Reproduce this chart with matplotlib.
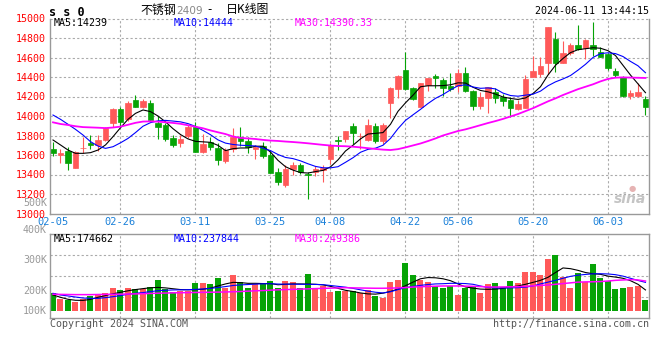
import numpy as np
import matplotlib
matplotlib.use('Agg')
import matplotlib.pyplot as plt
import matplotlib.transforms as mtransforms

# ---- data (SS2409, daily) ----
date_ticks = [0, 9, 19, 29, 37, 47, 54, 64, 74]
date_labels = ['02-05', '02-26', '03-11', '03-25', '04-08', '04-22', '05-06', '05-20', '06-03']

opens = [13658, 13597, 13641, 13470, 13670, 13727, 13706, 13754, 13925, 14072,
         13966, 14164, 14096, 14133, 13932, 13908, 13774, 13720, 13798, 13891,
         13634, 13737, 13675, 13542, 13658, 13781, 13744, 13661, 13692, 13600,
         13422, 13289, 13453, 13497, 13400, 13422, 13446, 13562, 13754, 13761,
         13897, 13794, 13754, 13897, 13747, 14137, 14273, 14472, 14284, 14096,
         14318, 14410, 14369, 14308, 14308, 14444, 14260, 14102, 14188, 14250,
         14200, 14164, 14072, 14079, 14403, 14431, 14547, 14790, 14547, 14650,
         14728, 14701, 14728, 14653, 14636, 14465, 14403, 14205, 14208, 14174]
highs = [13736, 13658, 13685, 13641, 13781, 13802, 13802, 13891, 14085, 14089,
         14154, 14215, 14174, 14164, 14000, 13925, 13802, 13802, 13911, 13939,
         13815, 13788, 13720, 13675, 13874, 13884, 13781, 13703, 13733, 13644,
         13463, 13497, 13525, 13514, 13429, 13487, 13497, 13720, 13790, 13850,
         13930, 13829, 13969, 13932, 13930, 14300, 14420, 14660, 14300, 14342,
         14393, 14431, 14386, 14438, 14482, 14499, 14267, 14250, 14294, 14284,
         14226, 14198, 14164, 14420, 14615, 14602, 14916, 14865, 14773, 14745,
         14933, 14786, 14967, 14711, 14643, 14489, 14410, 14267, 14342, 14205]
lows = [13590, 13521, 13446, 13470, 13624, 13658, 13638, 13747, 13884, 13898,
        13945, 14089, 14082, 13949, 13761, 13747, 13685, 13685, 13774, 13634,
        13625, 13651, 13497, 13514, 13634, 13692, 13617, 13559, 13569, 13412,
        13292, 13268, 13395, 13405, 13145, 13385, 13327, 13511, 13651, 13737,
        13713, 13658, 13744, 13720, 13713, 13983, 14181, 14265, 14164, 14090,
        14256, 14284, 14208, 14260, 14250, 14250, 14062, 14068, 14027, 14130,
        14100, 13993, 14062, 14079, 14397, 14397, 14431, 14455, 14547, 14626,
        14677, 14581, 14615, 14609, 14472, 14397, 14198, 14174, 14198, 14010]
closes = [13624, 13624, 13521, 13631, 13676, 13706, 13754, 13874, 14072, 13939,
          14133, 14096, 14154, 13956, 13891, 13768, 13706, 13768, 13887, 13634,
          13712, 13686, 13549, 13651, 13781, 13744, 13686, 13686, 13590, 13419,
          13327, 13460, 13497, 13429, 13395, 13456, 13467, 13699, 13747, 13843,
          13829, 13798, 13908, 13747, 13908, 14291, 14410, 14273, 14171, 14335,
          14386, 14393, 14284, 14273, 14438, 14260, 14102, 14198, 14294, 14188,
          14150, 14079, 14123, 14379, 14465, 14513, 14916, 14540, 14650, 14728,
          14687, 14779, 14687, 14609, 14489, 14420, 14208, 14239, 14250, 14096]

ma5 = [13754, 13703, 13651, 13617, 13617, 13624, 13651, 13703, 13788, 13880,
       13966, 14027, 14062, 14045, 14000, 13940, 13870, 13810, 13765, 13740,
       13735, 13730, 13699, 13645, 13665, 13672, 13672, 13690, 13690, 13630,
       13545, 13480, 13445, 13420, 13415, 13430, 13442, 13478, 13550, 13641,
       13700, 13765, 13815, 13822, 13830, 13915, 14048, 14135, 14213, 14300,
       14310, 14310, 14312, 14320, 14340, 14338, 14295, 14262, 14248, 14225,
       14195, 14180, 14170, 14185, 14230, 14300, 14420, 14520, 14590, 14650,
       14680, 14690, 14700, 14695, 14670, 14620, 14520, 14420, 14330, 14239]
ma10 = [14010, 13966, 13915, 13863, 13805, 13737, 13692, 13668, 13685, 13725,
        13770, 13830, 13895, 13932, 13950, 13955, 13948, 13940, 13922, 13893,
        13852, 13808, 13755, 13722, 13708, 13700, 13697, 13692, 13670, 13645,
        13605, 13575, 13563, 13540, 13510, 13483, 13469, 13468, 13480, 13525,
        13572, 13628, 13658, 13670, 13700, 13770, 13870, 13955, 14012, 14068,
        14128, 14181, 14220, 14268, 14310, 14320, 14298, 14284, 14288, 14278,
        14235, 14210, 14203, 14214, 14224, 14255, 14310, 14350, 14380, 14415,
        14470, 14530, 14600, 14640, 14648, 14640, 14610, 14560, 14515, 14444]
ma30 = [13935, 13918, 13908, 13895, 13886, 13883, 13880, 13876, 13882, 13891,
        13910, 13930, 13943, 13945, 13942, 13936, 13929, 13920, 13905, 13890,
        13874, 13852, 13833, 13815, 13790, 13775, 13770, 13764, 13755, 13748,
        13744, 13738, 13733, 13727, 13720, 13712, 13704, 13697, 13692, 13690,
        13685, 13678, 13670, 13662, 13655, 13651, 13660, 13678, 13698, 13718,
        13743, 13770, 13800, 13823, 13846, 13863, 13884, 13906, 13928, 13948,
        13970, 13995, 14020, 14050, 14080, 14115, 14150, 14181, 14215, 14245,
        14275, 14300, 14325, 14355, 14380, 14393, 14396, 14394, 14392, 14390]

# volume in thousands
volume = [147, 100, 92, 75, 100, 127, 141, 150, 191, 175,
          191, 183, 183, 200, 258, 183, 158, 166, 166, 233,
          233, 225, 275, 191, 300, 239, 191, 222, 230, 250,
          191, 250, 241, 191, 308, 183, 208, 158, 166, 166,
          166, 150, 175, 125, 108, 241, 258, 400, 300, 258,
          241, 208, 191, 208, 133, 191, 208, 150, 225, 233,
          200, 250, 233, 325, 325, 300, 433, 466, 283, 191,
          316, 241, 391, 275, 250, 183, 191, 200, 208, 92]
vol_ma5 = [133, 114, 97, 89, 88, 96, 114, 128, 143, 155,
           168, 178, 186, 193, 196, 192, 185, 178, 176, 177,
           181, 190, 208, 225, 238, 236, 230, 230, 228, 228,
           218, 222, 225, 225, 224, 222, 217, 205, 188, 172,
           162, 150, 142, 140, 148, 163, 182, 210, 240, 268,
           278, 276, 268, 252, 225, 200, 190, 182, 180, 182,
           188, 200, 208, 222, 238, 255, 280, 320, 358, 352,
           338, 320, 310, 305, 290, 282, 272, 252, 222, 175]
vol_ma10 = [147, 133, 125, 116, 108, 105, 105, 111, 119, 128,
            139, 147, 153, 161, 169, 172, 175, 176, 177, 180,
            183, 188, 195, 203, 212, 217, 220, 223, 226, 227,
            224, 223, 223, 222, 222, 221, 219, 212, 205, 198,
            188, 176, 165, 156, 150, 160, 178, 194, 204, 213,
            220, 225, 227, 230, 230, 228, 222, 208, 195, 192,
            192, 192, 194, 198, 208, 225, 240, 255, 272, 288,
            298, 304, 309, 310, 308, 302, 290, 272, 254, 238]
vol_ma30 = [139, 138, 137, 136, 136, 136, 137, 138, 139, 140,
            141, 142, 144, 146, 148, 149, 151, 152, 153, 154,
            155, 156, 157, 158, 160, 162, 165, 168, 170, 173,
            176, 178, 180, 182, 184, 186, 188, 190, 192, 194,
            192, 191, 190, 189, 189, 190, 192, 195, 199, 202,
            204, 206, 208, 208, 208, 207, 205, 203, 200, 199,
            200, 201, 202, 205, 209, 213, 216, 222, 228, 234,
            240, 242, 243, 245, 249, 255, 258, 261, 258, 249]

price_ticks = [13000, 13200, 13400, 13600, 13800, 14000, 14200, 14400, 14600, 14800, 15000]
vol_labels = ['500K', '400K', '300K', '200K', '100K']
price_legend = ['MA5:14239', 'MA10:14444', 'MA30:14390.33']
vol_legend = ['MA5:174662', 'MA10:237844', 'MA30:249386']

RED = '#ff5959'
GREEN = '#06a306'
GRID = '#aaaaaa'
FRAME = '#999999'
MONO = 'DejaVu Sans Mono'
W, H = 660, 360


def fx(x):
    return x / W


def fy(y):
    return 1 - y / H


def grid_h(ax, y):
    ax.axhline(y, color=GRID, lw=0.8, ls=(0, (2, 2)), zorder=0, clip_on=False)


def grid_v(ax, x):
    ax.axvline(x, color=GRID, lw=0.8, ls=(0, (2, 2)), zorder=0)


fig = plt.figure(figsize=(W / 100, H / 100), dpi=100)
fig.patch.set_facecolor('white')

x = np.arange(len(closes))
o = np.array(opens)
c = np.array(closes)
col = np.where(c >= o, RED, GREEN)

# ---- price pane ----
ax = fig.add_axes([fx(50), fy(213.5), 599 / W, 195 / H])
ax.set_xlim(-0.4, 79.47)
ax.set_ylim(13000, 15000)

for p in price_ticks[1:]:
    grid_h(ax, p)
for t in date_ticks[1:]:
    grid_v(ax, t)

ax.vlines(x, lows, highs, colors=col, lw=0.8, zorder=2)
ax.bar(x, np.maximum(np.abs(c - o), 6), bottom=np.minimum(o, c), width=0.68,
       color=col, edgecolor=col, lw=0.5, zorder=2)

ax.plot(x, ma5, color='black', lw=0.8, zorder=3)
ax.plot(x, ma10, color='#0000ff', lw=0.8, zorder=3)
ax.plot(x, ma30, color='#ff00ff', lw=1.3, zorder=3)

ax.set_yticks(price_ticks)
ax.set_yticklabels([str(p) for p in price_ticks], color='#ff0000',
                   fontsize=7.2, family=MONO)
# labels sit a couple of pixels above their grid line on the original
lift = mtransforms.ScaledTranslation(0, 2.5 / 100, fig.dpi_scale_trans)
for lab in ax.get_yticklabels():
    lab.set_transform(lab.get_transform() + lift)
ax.set_xticks(date_ticks)
ax.set_xticklabels(date_labels, color='#1a80d9', fontsize=7.5, family=MONO)
ax.tick_params(axis='y', length=0, pad=3)
ax.tick_params(axis='x', length=0, pad=2.3)
ax.spines['top'].set_visible(False)
for s in ('left', 'right', 'bottom'):
    ax.spines[s].set_color(FRAME)
    ax.spines[s].set_linewidth(1.0)

# ---- volume pane ----
axv = fig.add_axes([fx(50), fy(317.7), 599 / W, 83.4 / H])
axv.set_xlim(-0.4, 79.47)
vlo, vhi = -56, 638
axv.set_ylim(vlo, vhi)
for f in (0.25, 0.5, 0.75):
    grid_h(axv, vlo + f * (vhi - vlo))
for t in date_ticks[1:]:
    grid_v(axv, t)

axv.bar(x, volume, width=0.8, color=col, lw=0, zorder=2)
axv.plot(x, vol_ma5, color='black', lw=0.8, zorder=3)
axv.plot(x, vol_ma10, color='#0000ff', lw=0.8, zorder=3)
axv.plot(x, vol_ma30, color='#ff00ff', lw=1.1, zorder=3)
axv.set_xticks([])
axv.set_yticks([])
for s in axv.spines.values():
    s.set_color(FRAME)
    s.set_linewidth(1.0)

# volume labels sit at odd spots on the original
for lab, yy in zip(vol_labels, [203, 230, 260, 291, 311]):
    fig.text(fx(47), fy(yy), lab, ha='right', va='center', color='#999999',
             fontsize=7.2, family=MONO)

# ---- texts ----
fig.text(fx(49), fy(12), 's s 0', ha='left', va='center', fontsize=8.5,
         family=MONO, weight='bold')
fig.text(fx(140), fy(10), '不锈钢', ha='left', va='center', fontsize=8.6,
         family='Noto Sans CJK SC')
fig.text(fx(176), fy(10.5), '2409', ha='left', va='center', fontsize=7.6,
         family='DejaVu Sans', color='#888888')
fig.text(fx(207), fy(10), '-', ha='left', va='center', fontsize=8.4,
         family='DejaVu Sans')
fig.text(fx(226), fy(10), '日K线图', ha='left', va='center', fontsize=8.6,
         family='Noto Sans CJK SC')
fig.text(fx(649), fy(11.5), '2024-06-11 13:44:15', ha='right', va='center',
         fontsize=7.2, family=MONO)

for txt, xx, cc in zip(price_legend, [54, 174, 295], ['black', '#0000ff', '#ff00ff']):
    fig.text(fx(xx), fy(23.5), txt, ha='left', va='center', fontsize=7.2,
             family=MONO, color=cc)
for txt, xx, cc in zip(vol_legend, [54, 174, 295], ['black', '#0000ff', '#ff00ff']):
    fig.text(fx(xx), fy(238.5), txt, ha='left', va='center', fontsize=7.2,
             family=MONO, color=cc)

fig.text(fx(50), fy(324), 'Copyright 2024 SINA.COM', ha='left', va='center',
         fontsize=7.2, family=MONO, color='#555555')
fig.text(fx(649), fy(324), 'http://finance.sina.com.cn', ha='right', va='center',
         fontsize=7.2, family=MONO, color='#555555')

# sina watermark
fig.text(fx(646), fy(199), 'sina', ha='right', va='center', fontsize=10,
         style='italic', weight='bold', color='#c4c4c4')
fig.text(fx(632), fy(188), '●', ha='center', va='center', fontsize=6,
         color='#e6b3b3')

fig.savefig('out.png', dpi=100)
